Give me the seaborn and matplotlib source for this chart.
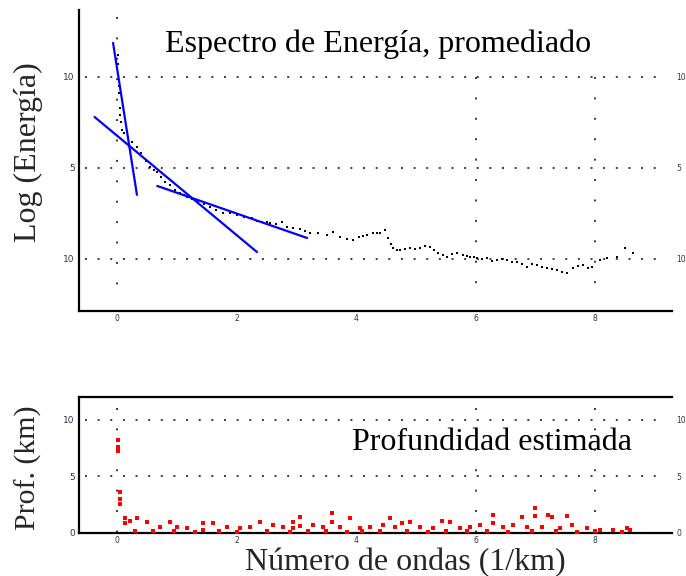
import matplotlib
matplotlib.use("Agg")
import matplotlib.pyplot as plt
import seaborn as sns
import pandas as pd

# Averaged power spectrum (log energy vs. wavenumber, 1/km)
k_spec = [0.02, 0.02, 0.03, 0.03, 0.04, 0.05, 0.06, 0.08, 0.12, 0.18,
          0.25, 0.33, 0.40, 0.48, 0.55, 0.62, 0.67, 0.74, 0.80, 0.88,
          0.97, 1.05, 1.12, 1.17, 1.25, 1.36, 1.45, 1.56, 1.66, 1.77,
          1.88, 2.01, 2.12, 2.26, 2.34, 2.43, 2.50, 2.56, 2.66, 2.76,
          2.85, 2.95, 3.06, 3.15, 3.23, 3.36, 3.51, 3.62, 3.73, 3.84,
          3.95, 4.05, 4.12, 4.18, 4.28, 4.35, 4.40, 4.49, 4.54, 4.58,
          4.62, 4.68, 4.74, 4.82, 4.90, 4.98, 5.07, 5.15, 5.24, 5.30,
          5.37, 5.45, 5.52, 5.60, 5.69, 5.79, 5.85, 5.91, 5.97, 6.03,
          6.11, 6.19, 6.27, 6.36, 6.44, 6.53, 6.61, 6.69, 6.77, 6.86,
          6.95, 7.03, 7.11, 7.20, 7.28, 7.36, 7.45, 7.53, 7.63, 7.71,
          7.80, 7.88, 7.95, 8.08, 8.20, 8.37, 8.50, 8.64]
log_energy = [1.2, 0.7, -0.5, -0.9, -1.7, -2.1, -2.5, -2.9, -3.1, -3.3,
              -3.6, -3.85, -4.2, -4.6, -4.95, -5.1, -5.22, -5.5, -5.77, -5.95,
              -6.21, -6.4, -6.5, -6.59, -6.7, -6.87, -7.0, -7.14, -7.3, -7.47,
              -7.5, -7.58, -7.68, -7.75, -7.9, -7.97, -7.95, -8.02, -8.1, -7.97,
              -8.24, -8.3, -8.35, -8.45, -8.57, -8.6, -8.68, -8.52, -8.79, -8.9,
              -8.96, -8.8, -8.75, -8.68, -8.57, -8.6, -8.57, -8.41, -8.85, -9.2,
              -9.4, -9.5, -9.51, -9.45, -9.4, -9.45, -9.4, -9.3, -9.34, -9.5,
              -9.67, -9.8, -9.89, -9.75, -9.67, -9.78, -9.85, -9.89, -9.9, -9.95,
              -10.0, -9.95, -10.1, -10.05, -10.0, -10.05, -10.15, -10.16, -10.3, -10.44,
              -10.3, -10.33, -10.45, -10.49, -10.55, -10.6, -10.7, -10.77, -10.49, -10.4,
              -10.33, -10.5, -10.44, -10.05, -9.95, -9.89, -9.4, -9.67]

# Straight-line fits to the spectrum segments
fit_x_start = [-0.07, -0.38, 0.67]
fit_x_end = [0.33, 2.34, 3.18]
fit_y_start = [1.87, -2.20, -5.99]
fit_y_end = [-6.48, -9.62, -8.85]

# Estimated depth (km) vs. wavenumber
k_depth = [0.02, 0.02, 0.02, 0.05, 0.05, 0.05, 0.13, 0.13, 0.22, 0.33,
           0.50, 0.72, 0.89, 1.00, 1.17, 1.44, 1.44, 1.61, 1.84, 2.06,
           2.23, 2.39, 2.61, 2.78, 2.95, 2.95, 3.06, 3.06, 3.28, 3.45,
           3.60, 3.60, 3.73, 3.90, 4.07, 4.23, 4.45, 4.57, 4.65, 4.77,
           4.90, 5.07, 5.29, 5.44, 5.57, 5.74, 5.91, 6.08, 6.29, 6.29,
           6.46, 6.63, 6.78, 6.86, 7.00, 7.00, 7.11, 7.21, 7.28, 7.41,
           7.53, 7.62, 7.87, 8.08, 8.30, 8.54, 8.59,
           0.30, 0.60, 0.95, 1.30, 1.70, 2.00, 2.50, 2.90, 3.20, 3.50,
           3.85, 4.10, 4.40, 4.85, 5.20, 5.50, 5.85, 6.20, 6.55, 6.95,
           7.35, 7.70, 8.00, 8.45]
depth_km = [8.2, 7.6, 7.2, 3.6, 3.0, 2.6, 1.3, 0.9, 1.1, 1.3,
            1.0, 0.5, 1.0, 0.5, 0.4, 0.9, 0.3, 0.9, 0.5, 0.4,
            0.5, 1.0, 0.7, 0.5, 1.0, 0.4, 1.4, 0.6, 0.7, 0.5,
            1.75, 1.0, 0.5, 1.3, 0.4, 0.5, 0.7, 1.3, 0.5, 0.9,
            1.0, 0.5, 0.4, 1.1, 1.0, 0.4, 0.5, 0.7, 1.6, 0.9,
            0.5, 0.7, 1.4, 0.5, 2.2, 1.5, 0.5, 1.6, 1.4, 0.4,
            1.5, 0.7, 0.4, 0.25, 0.25, 0.4, 0.25,
            0.2, 0.15, 0.2, 0.1, 0.2, 0.1, 0.2, 0.1, 0.15, 0.2,
            0.1, 0.2, 0.15, 0.2, 0.1, 0.2, 0.15, 0.2, 0.1, 0.2,
            0.15, 0.1, 0.2, 0.1]

x_ticks = [0, 2, 4, 6, 8]
x_tick_labels = ["0", "2", "4", "6", "8"]
spec_ticks = [0, -5, -10]
spec_tick_labels = ["10", "5", "10"]
depth_ticks = [10, 5, 0]
depth_tick_labels = ["10", "5", "0"]

sns.set_theme(style="white")
plt.rcParams["font.family"] = ["DejaVu Sans"]
SERIF = ["Liberation Serif", "DejaVu Serif"]
BIG = 23

fig = plt.figure(figsize=(6.86, 5.76), dpi=100)
ax1 = fig.add_axes([0.1152, 0.4601, 0.8644, 0.5226])
ax2 = fig.add_axes([0.1152, 0.0747, 0.8644, 0.2361])

XLIM = (-0.64, 9.29)
grid_kw = dict(color="#3a3a3a", lw=1.4, zorder=1)
h_dots = (0, (1, 5.5))
v_dots = (0, (1, 9.5))


def style_axes(ax, yticks, ylabels, spines):
    for side, sp in ax.spines.items():
        sp.set_visible(side in spines)
        sp.set_color("black")
        sp.set_linewidth(1.6)
    ax.set_xlim(*XLIM)
    ax.set_xticks(x_ticks)
    ax.set_xticklabels(x_tick_labels)
    ax.set_yticks(yticks)
    ax.set_yticklabels(ylabels)
    ax.tick_params(axis="x", length=0, pad=2.5, labelsize=5.5, colors="#333344")
    ax.tick_params(axis="y", direction="in", length=3, width=1.2, pad=3,
                   labelsize=6.5, colors="#334",
                   labelright=True, right=False)
    for lab in ax.get_yticklabels()[len(yticks):]:
        lab.set_fontsize(5.5)
    ax.set_xlabel("")
    ax.set_ylabel("")
    ax.grid(False)


# ---- Top panel: energy spectrum ----
ax1.set_ylim(-12.86, 3.68)
for yv in spec_ticks:
    ax1.axhline(yv, xmin=0.01, xmax=0.98, ls=h_dots, **grid_kw)
ax1.plot([0, 0], [3.3, -12.0], ls=v_dots, **grid_kw)
for xv in (6, 8):
    ax1.plot([xv, xv], [0, -12.0], ls=v_dots, **grid_kw)

spec_df = pd.DataFrame({"k": k_spec, "E": log_energy})
sns.scatterplot(data=spec_df, x="k", y="E", ax=ax1, color="black",
                marker="s", s=4.5, linewidth=0, zorder=3)

for i in range(len(fit_x_start)):
    seg = pd.DataFrame({"k": [fit_x_start[i], fit_x_end[i]],
                        "E": [fit_y_start[i], fit_y_end[i]]})
    sns.lineplot(data=seg, x="k", y="E", ax=ax1, color="#0000ff",
                 lw=1.6, sort=False, zorder=4)

style_axes(ax1, spec_ticks, spec_tick_labels, ("left", "bottom"))
ax1.text(378 / 686, 1 - 44 / 576, "Espectro de Energía, promediado",
         transform=fig.transFigure, ha="center", va="center",
         family=SERIF, fontsize=BIG, color="black", zorder=6,
         bbox=dict(facecolor="white", edgecolor="none", pad=5))

# ---- Bottom panel: estimated depth ----
ax2.set_ylim(0, 12)
for yv in (10, 5):
    ax2.axhline(yv, xmin=0.01, xmax=0.98, ls=h_dots, **grid_kw)
for xv in (0, 6, 8):
    ax2.plot([xv, xv], [11.05, 0], ls=v_dots, **grid_kw)

depth_df = pd.DataFrame({"k": k_depth, "z": depth_km})
sns.scatterplot(data=depth_df, x="k", y="z", ax=ax2, color="#ff0000",
                marker="s", s=5, linewidth=0, zorder=3, clip_on=False)

style_axes(ax2, depth_ticks, depth_tick_labels, ("left", "bottom", "top"))
ax2.text(492 / 686, 1 - 443 / 576, "Profundidad estimada",
         transform=fig.transFigure, ha="center", va="center",
         family=SERIF, fontsize=BIG, color="black", zorder=6)

# Axis titles
fig.text(405 / 686, 1 - 570 / 576, "Número de ondas (1/km)", ha="center",
         va="baseline", family=SERIF, fontsize=BIG)
fig.text(28 / 686, 1 - 152 / 576, "Log (Energía)", ha="center", va="center",
         rotation=90, family=SERIF, fontsize=BIG)
fig.text(28 / 686, 1 - 468 / 576, "Prof. (km)", ha="center", va="center",
         rotation=90, family=SERIF, fontsize=21.5)

fig.savefig("out.png", dpi=100, facecolor="white")
